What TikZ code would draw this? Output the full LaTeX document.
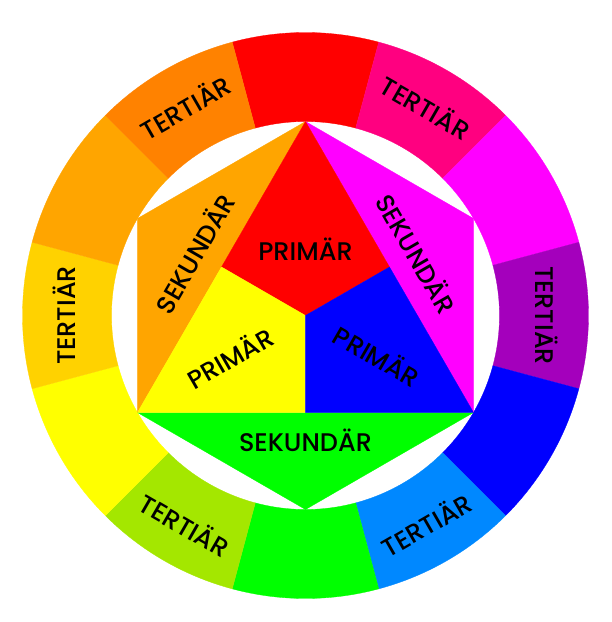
\documentclass[tikz,border=0pt]{standalone}
\usepackage{fontspec}
\setmainfont{Poppins}[UprightFont={* Medium}]
\definecolor{cRed}{HTML}{FF0000}
\definecolor{cRose}{HTML}{FF0080}
\definecolor{cMag}{HTML}{FF00FF}
\definecolor{cPurp}{HTML}{A400BC}
\definecolor{cBlue}{HTML}{0000FF}
\definecolor{cAzure}{HTML}{0088FF}
\definecolor{cGreen}{HTML}{00FF00}
\definecolor{cYG}{HTML}{A4E700}
\definecolor{cYel}{HTML}{FFFF00}
\definecolor{cGold}{HTML}{FFD200}
\definecolor{cOrange}{HTML}{FFA500}
\definecolor{cDOrange}{HTML}{FF8200}
\begin{document}
\begin{tikzpicture}[x=1pt,y=1pt,
  lbl/.style={font=\fontsize{25.5}{25.5}\selectfont, text=black, inner sep=0pt},
  patch/.style={fill=#1, draw=#1, line width=0.3pt, line join=round}]
\useasboundingbox (-305.5,-306.5) rectangle (306.5,315.5);
\def\Ro{283}
\def\Ri{194}
% ring segments
\foreach \a/\c in {90/cRed,60/cRose,30/cMag,0/cPurp,-30/cBlue,-60/cAzure,-90/cGreen,-120/cYG,-150/cYel,180/cGold,150/cOrange,120/cDOrange}{
  \path[patch=\c] (\a-15:\Ri) arc[start angle=\a-15, end angle=\a+15, radius=\Ri]
    -- (\a+15:\Ro) arc[start angle=\a+15, end angle=\a-15, radius=\Ro] -- cycle;
}
% inner hexagon points
\coordinate (A) at (90:194);
\coordinate (L) at (150:194);
\coordinate (BL) at (210:194);
\coordinate (B) at (270:194);
\coordinate (BR) at (330:194);
\coordinate (R) at (30:194);
\coordinate (O) at (0,0);
\coordinate (ML) at (-84,48.5);
\coordinate (MR) at (84,48.5);
\coordinate (MB) at (0,-97);
% secondaries
\path[patch=cOrange] (A) -- (L) -- (BL) -- cycle;
\path[patch=cMag] (A) -- (R) -- (BR) -- cycle;
\path[patch=cGreen] (BL) -- (BR) -- (B) -- cycle;
% primaries
\path[patch=cRed] (A) -- (MR) -- (O) -- (ML) -- cycle;
\path[patch=cYel] (ML) -- (O) -- (MB) -- (BL) -- cycle;
\path[patch=cBlue] (O) -- (MR) -- (BR) -- (MB) -- cycle;
% labels
\node[lbl] (p1) at (0,66.5) {PRIMÄR};
\node[lbl, rotate=30] (p2) at (-76,-41.5) {PRIMÄR};
\node[lbl, rotate=-30] (p3) at (72,-40) {PRIMÄR};
\node[lbl] (s1) at (0,-125) {SEKUNDÄR};
\node[lbl, rotate=60] (s2) at (-111.5,62.5) {SEKUNDÄR};
\node[lbl, rotate=-60] (s3) at (111.5,62.5) {SEKUNDÄR};
\node[lbl, rotate=30] (t1) at (120:241) {TERTIÄR};
\node[lbl, rotate=-30] (t2) at (60:241) {TERTIÄR};
\node[lbl, rotate=-90] (t3) at (0:241) {TERTIÄR};
\node[lbl, rotate=30] (t4) at (-60:241) {TERTIÄR};
\node[lbl, rotate=-30] (t5) at (-120:241) {TERTIÄR};
\node[lbl, rotate=90] (t6) at (180:241) {TERTIÄR};
\end{tikzpicture}
\end{document}
